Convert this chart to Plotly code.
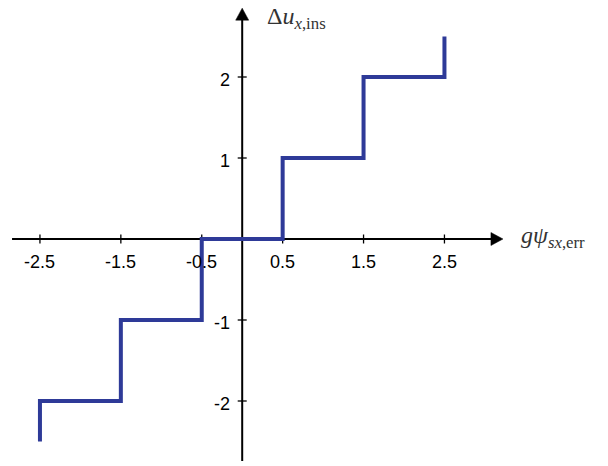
import plotly.graph_objects as go

# Staircase data
step_x = [-2.5, -2.5, -1.5, -1.5, -0.5, -0.5, 0.5, 0.5, 1.5, 1.5, 2.5, 2.5]
step_y = [-2.5, -2.0, -2.0, -1.0, -1.0, 0.0, 0.0, 1.0, 1.0, 2.0, 2.0, 2.5]

x_ticks = [-2.5, -1.5, -0.5, 0.5, 1.5, 2.5]
x_tick_labels = ["-2.5", "-1.5", "-0.5", "0.5", "1.5", "2.5"]
y_ticks = [2, 1, -1, -2]
y_tick_labels = ["2", "1", "-1", "-2"]

W, H = 608, 466
ux = 80.9  # px per unit
uy = 81.0
x0px, y0px = 242.2, 239.0
xr = [-x0px / ux, (W - x0px) / ux]
yr = [-(H - y0px) / uy, y0px / uy]

fig = go.Figure()

shapes = []
annotations = []
AX_COLOR = "#000000"

# axis lines (stop before arrow tips)
x_axis_start, x_axis_tip = -2.845, 3.223
y_axis_start, y_axis_tip = -2.74, 2.85
shapes.append(dict(type="line", x0=x_axis_start, x1=x_axis_tip - 0.1, y0=0, y1=0,
                   line=dict(color=AX_COLOR, width=2), layer="below"))
shapes.append(dict(type="line", x0=0, x1=0, y0=y_axis_start, y1=y_axis_tip - 0.1,
                   line=dict(color=AX_COLOR, width=2), layer="below"))
# arrowheads as filled triangles
ahl = 12 / ux
ahw = 6.5 / uy
shapes.append(dict(type="path",
                   path=f"M {x_axis_tip} 0 L {x_axis_tip - ahl} {ahw} L {x_axis_tip - ahl} {-ahw} Z",
                   fillcolor=AX_COLOR, line=dict(color=AX_COLOR, width=0.5)))
ahl_y = 12 / uy
ahw_x = 6.5 / ux
shapes.append(dict(type="path",
                   path=f"M 0 {y_axis_tip} L {ahw_x} {y_axis_tip - ahl_y} L {-ahw_x} {y_axis_tip - ahl_y} Z",
                   fillcolor=AX_COLOR, line=dict(color=AX_COLOR, width=0.5)))

tick_half_y = 4.5 / uy
tick_half_x = 4.5 / ux
for xv, lab in zip(x_ticks, x_tick_labels):
    shapes.append(dict(type="line", x0=xv, x1=xv, y0=-tick_half_y, y1=tick_half_y,
                       line=dict(color=AX_COLOR, width=1.3), layer="below"))
    annotations.append(dict(x=xv, y=-23 / uy, text=lab, showarrow=False,
                            xanchor="center", yanchor="middle",
                            font=dict(family="Liberation Sans, Arial", size=18, color="#000")))
for yv, lab in zip(y_ticks, y_tick_labels):
    shapes.append(dict(type="line", x0=-tick_half_x, x1=tick_half_x, y0=yv, y1=yv,
                       line=dict(color=AX_COLOR, width=1.3), layer="below"))
    annotations.append(dict(x=-10 / ux, y=yv - 3 / uy, text=lab, showarrow=False,
                            xanchor="right", yanchor="middle",
                            font=dict(family="Liberation Sans, Arial", size=18, color="#000")))

SERIF = "Liberation Serif, Times New Roman"
# axis titles
annotations.append(dict(x=23 / ux, y=(239 - 18) / uy,
                        text="Δ<i>u</i><sub><i>x</i>,ins</sub>", showarrow=False,
                        xanchor="left", yanchor="middle",
                        font=dict(family=SERIF, size=24, color="#333")))
annotations.append(dict(x=(519 - x0px) / ux, y=2 / uy,
                        text="<i>gψ</i><sub><i>sx</i>,err</sub>", showarrow=False,
                        xanchor="left", yanchor="middle",
                        font=dict(family=SERIF, size=24, color="#333")))

fig.add_trace(go.Scatter(x=step_x, y=step_y, mode="lines",
                         line=dict(color="#2e3a98", width=4, shape="linear"),
                         hoverinfo="skip", showlegend=False))

fig.update_layout(
    width=W, height=H,
    margin=dict(l=0, r=0, t=0, b=0),
    paper_bgcolor="white", plot_bgcolor="white",
    xaxis=dict(range=xr, visible=False, fixedrange=True),
    yaxis=dict(range=yr, visible=False, fixedrange=True),
    shapes=shapes, annotations=annotations,
    showlegend=False,
)

fig.write_html("out.html")
